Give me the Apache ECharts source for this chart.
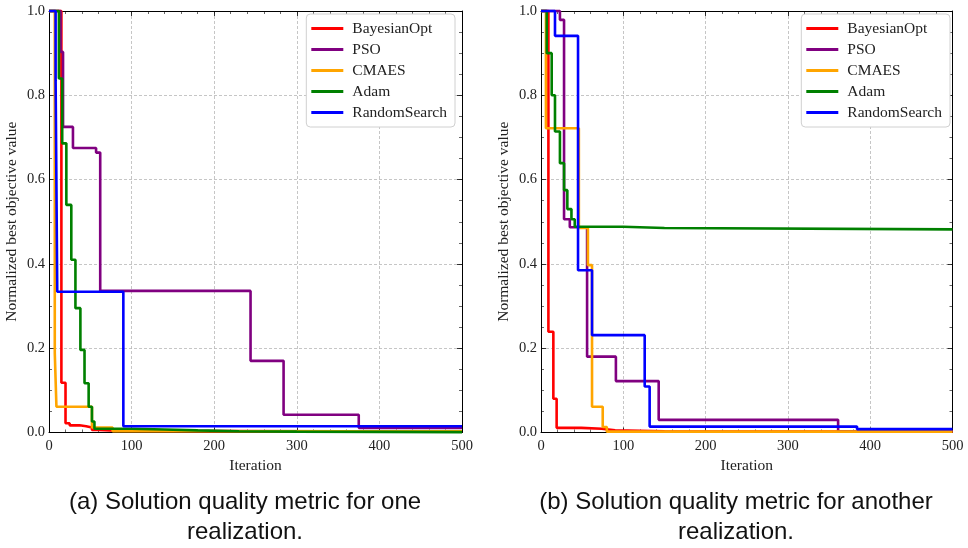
<!DOCTYPE html>
<html>
<head>
<meta charset="utf-8">
<title>Solution quality metric</title>
<script src="https://cdn.jsdelivr.net/npm/echarts@6/dist/echarts.min.js"></script>
<style>
  html, body { margin: 0; padding: 0; background: #ffffff; }
  #chart { width: 968px; height: 548px; }
</style>
</head>
<body>
<div id="chart"></div>
<script>
// Best objective value so far, as [iteration, value] change points (held until the next point).
const seriesNames = ['BayesianOpt', 'PSO', 'CMAES', 'Adam', 'RandomSearch'];
const seriesColors = ['#ff0000', '#800080', '#ffa500', '#008000', '#0000ff'];

// (a) first realization
const bayesA = [[0, 1], [15, 0.118], [20, 0.022], [25, 0.017], [37, 0.015], [45, 0.012], [52, 0.006], [60, 0.004], [80, 0.002], [500, 0.001]];
const psoA   = [[0, 1], [14, 0.903], [17, 0.725], [29, 0.675], [57, 0.664], [62, 0.336], [244, 0.17], [284, 0.042], [375, 0.011], [500, 0.011]];
const cmaesA = [[0, 1], [7, 0.189], [9, 0.061], [52, 0.012], [77, 0.003], [500, 0.002]];
const adamA  = [[0, 1], [12, 0.84], [16, 0.686], [21, 0.54], [27, 0.41], [32, 0.295], [38, 0.196], [43, 0.117], [48, 0.061], [52, 0.026], [55, 0.009], [100, 0.007], [140, 0.005], [180, 0.003], [230, 0.002], [300, 0.001], [500, 0.001]];
const randA  = [[0, 1], [8, 0.836], [10, 0.334], [90, 0.015], [500, 0.015]];

// (b) second realization
const bayesB = [[0, 1], [9, 0.239], [15, 0.08], [19, 0.011], [49, 0.009], [74, 0.005], [90, 0.003], [150, 0.002], [500, 0.002]];
const psoB   = [[0, 1], [23, 0.979], [28, 0.506], [35, 0.487], [56, 0.18], [91, 0.122], [143, 0.03], [361, 0.003], [500, 0.003]];
const cmaesB = [[0, 1], [6, 0.722], [46, 0.485], [57, 0.397], [62, 0.061], [75, 0.013], [80, 0.002], [500, 0.001]];
const adamB  = [[0, 1], [7, 0.9], [13, 0.8], [17, 0.714], [23, 0.639], [28, 0.575], [32, 0.53], [37, 0.506], [41, 0.488], [100, 0.485], [150, 0.482], [500, 0.481]];
const randB  = [[0, 1], [17, 0.941], [45, 0.385], [62, 0.231], [126, 0.109], [132, 0.014], [384, 0.008], [500, 0.008]];

const xTicks = [0, 100, 200, 300, 400, 500];
const yTicks = [0.0, 0.2, 0.4, 0.6, 0.8, 1.0];
const xTitle = 'Iteration';
const yTitle = 'Normalized best objective value';
const captions = ['(a) Solution quality metric for one\nrealization.', '(b) Solution quality metric for another\nrealization.'];

const panels = [[bayesA, psoA, cmaesA, adamA, randA], [bayesB, psoB, cmaesB, adamB, randB]];

const serif = "'Liberation Serif', 'DejaVu Serif', serif";
const gridBoxes = [
  { left: 49, top: 11, width: 413, height: 421.5 },
  { left: 541, top: 11, width: 411.5, height: 421.5 }
];

function baseAxis(extra) {
  return Object.assign({
    type: 'value',
    axisLine: { show: true, onZero: false, lineStyle: { color: '#000', width: 1 } },
    axisTick: { show: true, inside: true, length: 5, lineStyle: { color: '#000', width: 0.8 } },
    minorTick: { show: true, length: 3, lineStyle: { color: '#000', width: 0.6 } },
    splitLine: { show: false },
    axisLabel: { show: false }
  }, extra);
}

const xAxes = [];
const yAxes = [];
gridBoxes.forEach((g, i) => {
  const xCommon = { gridIndex: i, min: xTicks[0], max: xTicks[xTicks.length - 1], interval: xTicks[1] - xTicks[0] };
  const yCommon = { gridIndex: i, min: yTicks[0], max: yTicks[yTicks.length - 1], interval: 0.2 };
  xAxes.push(baseAxis(Object.assign({}, xCommon, {
    position: 'bottom',
    minorTick: { show: true, splitNumber: 5, length: 3, lineStyle: { color: '#000', width: 0.6 } },
    splitLine: { show: true, lineStyle: { color: '#b8b8b8', width: 0.8, type: [3, 2] } },
    axisLabel: { show: true, color: '#222', fontFamily: serif, fontSize: 14.5, margin: 6 },
    name: xTitle, nameLocation: 'middle', nameGap: 20,
    nameTextStyle: { color: '#222', fontFamily: serif, fontSize: 15.5 }
  })));
  xAxes.push(baseAxis(Object.assign({}, xCommon, {
    position: 'top',
    minorTick: { show: true, splitNumber: 5, length: 3, lineStyle: { color: '#000', width: 0.6 } }
  })));
  yAxes.push(baseAxis(Object.assign({}, yCommon, {
    position: 'left',
    minorTick: { show: true, splitNumber: 4, length: 3, lineStyle: { color: '#000', width: 0.6 } },
    splitLine: { show: true, lineStyle: { color: '#b8b8b8', width: 0.8, type: [3, 2] } },
    axisLabel: { show: true, color: '#222', fontFamily: serif, fontSize: 14.5, margin: 4,
                 formatter: v => v.toFixed(1) },
    name: yTitle, nameLocation: 'middle', nameGap: 29, nameRotate: 90,
    nameTextStyle: { color: '#222', fontFamily: serif, fontSize: 15.5 }
  })));
  yAxes.push(baseAxis(Object.assign({}, yCommon, {
    position: 'right',
    minorTick: { show: true, splitNumber: 4, length: 3, lineStyle: { color: '#000', width: 0.6 } }
  })));
});

const series = [];
panels.forEach((curves, p) => {
  curves.forEach((data, k) => {
    series.push({
      name: seriesNames[k],
      type: 'line',
      xAxisIndex: p * 2,
      yAxisIndex: p * 2,
      data: data,
      step: 'end',
      symbol: 'none',
      clip: false,
      lineStyle: { color: seriesColors[k], width: 2.6 },
      itemStyle: { color: seriesColors[k] },
      z: 3 + k,
      animation: false
    });
  });
});

const legendBase = {
  orient: 'vertical',
  top: 14,
  icon: 'rect',
  itemWidth: 32,
  itemHeight: 3,
  itemGap: 0,
  padding: [4, 8, 4, 5],
  backgroundColor: '#ffffff',
  borderColor: '#d0d0d0',
  borderWidth: 1,
  borderRadius: 4,
  textStyle: { color: '#222', fontFamily: serif, fontSize: 15.5, lineHeight: 21, padding: [0, 0, 0, 4] },
  data: seriesNames
};

const captionStyle = { color: '#111', fontFamily: "'Liberation Sans', Arial, sans-serif", fontWeight: 'normal', fontSize: 24, lineHeight: 30 };

const option = {
  animation: false,
  backgroundColor: '#ffffff',
  grid: gridBoxes,
  xAxis: xAxes,
  yAxis: yAxes,
  legend: [
    Object.assign({}, legendBase, { right: 968 - 455 }),
    Object.assign({}, legendBase, { right: 968 - 950 })
  ],
  title: [
    { text: captions[0], left: 240, top: 482, textAlign: 'center', textStyle: captionStyle },
    { text: captions[1], left: 731, top: 482, textAlign: 'center', textStyle: captionStyle }
  ],
  series: series
};

const chart = echarts.init(document.getElementById('chart'), null, { renderer: 'canvas' });
chart.setOption(option);
</script>
</body>
</html>
